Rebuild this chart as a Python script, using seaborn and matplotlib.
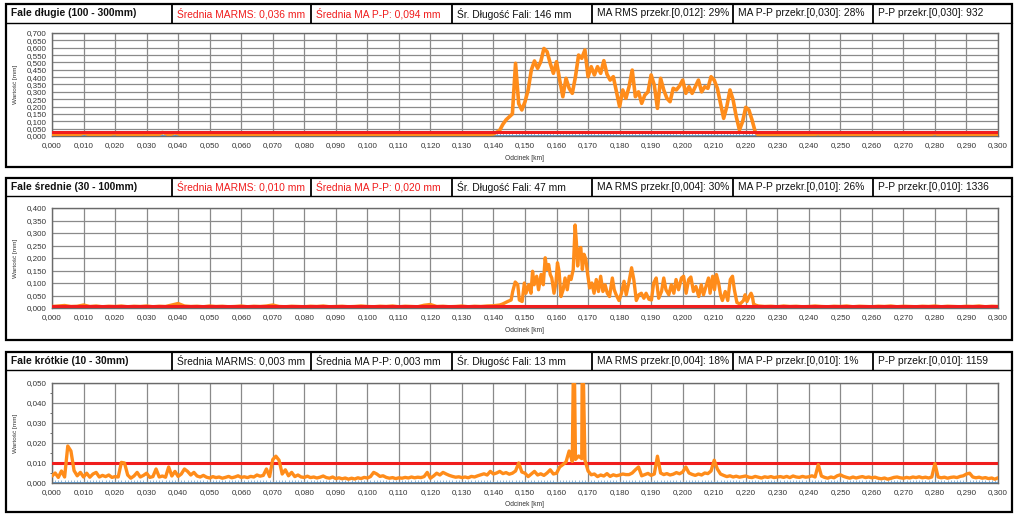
import numpy as np
import matplotlib
matplotlib.use("Agg")
import matplotlib.pyplot as plt
import seaborn as sns
from matplotlib.patches import Rectangle
from matplotlib.lines import Line2D
from matplotlib.ticker import MultipleLocator, FuncFormatter

sns.set_style("white")
plt.rcParams["font.family"] = ["Liberation Sans", "DejaVu Sans"]

# ========== Data ==========
# --- long waves: one value per metre, 0.000 .. 0.300 km ---
p1_y = [
    0.008, 0.006, 0.009, 0.007, 0.010, 0.006, 0.008, 0.011, 0.007, 0.012,   # 0.000
    0.020, 0.015, 0.008, 0.006, 0.009, 0.012, 0.007, 0.010, 0.008, 0.014,   # 0.010
    0.016, 0.009, 0.007, 0.006, 0.010, 0.013, 0.008, 0.011, 0.007, 0.015,   # 0.020
    0.009, 0.006, 0.008, 0.007, 0.012, 0.024, 0.018, 0.009, 0.014, 0.022,   # 0.030
    0.016, 0.008, 0.006, 0.009, 0.011, 0.007, 0.008, 0.006, 0.010, 0.007,   # 0.040
    0.009, 0.006, 0.008, 0.010, 0.007, 0.006, 0.009, 0.011, 0.008, 0.006,   # 0.050
    0.007, 0.009, 0.006, 0.008, 0.010, 0.007, 0.006, 0.009, 0.008, 0.011,   # 0.060
    0.008, 0.006, 0.007, 0.009, 0.006, 0.008, 0.010, 0.007, 0.006, 0.008,   # 0.070
    0.009, 0.007, 0.006, 0.008, 0.010, 0.007, 0.009, 0.006, 0.008, 0.007,   # 0.080
    0.006, 0.008, 0.009, 0.007, 0.006, 0.010, 0.008, 0.007, 0.009, 0.006,   # 0.090
    0.008, 0.007, 0.010, 0.006, 0.009, 0.008, 0.007, 0.011, 0.006, 0.008,   # 0.100
    0.007, 0.009, 0.006, 0.008, 0.010, 0.007, 0.009, 0.006, 0.011, 0.008,   # 0.110
    0.010, 0.007, 0.009, 0.006, 0.008, 0.010, 0.007, 0.006, 0.009, 0.008,   # 0.120
    0.007, 0.009, 0.006, 0.008, 0.010, 0.007, 0.009, 0.008, 0.010, 0.012,   # 0.130
    0.014, 0.025, 0.040, 0.080, 0.110, 0.130, 0.150, 0.494, 0.220, 0.177,   # 0.140
    0.233, 0.313, 0.448, 0.510, 0.460, 0.505, 0.595, 0.573, 0.494, 0.426,   # 0.150
    0.505, 0.380, 0.267, 0.392, 0.324, 0.290, 0.403, 0.550, 0.528, 0.585,   # 0.160
    0.403, 0.471, 0.415, 0.471, 0.426, 0.512, 0.420, 0.380, 0.403, 0.300,   # 0.170
    0.200, 0.313, 0.256, 0.335, 0.448, 0.267, 0.300, 0.222, 0.278, 0.300,   # 0.180
    0.415, 0.346, 0.188, 0.392, 0.313, 0.256, 0.233, 0.324, 0.313, 0.340,   # 0.190
    0.380, 0.290, 0.335, 0.290, 0.335, 0.380, 0.300, 0.335, 0.324, 0.403,   # 0.200
    0.380, 0.324, 0.222, 0.120, 0.200, 0.313, 0.245, 0.131, 0.041, 0.097,   # 0.210
    0.195, 0.177, 0.109, 0.029, 0.007, 0.006,                               # 0.220
    0.006, 0.008, 0.007, 0.009, 0.006, 0.008, 0.010, 0.007, 0.009, 0.006,   # 0.226
    0.008, 0.007, 0.010, 0.006, 0.009, 0.008, 0.011, 0.016, 0.009, 0.007,   # 0.236
    0.008, 0.006, 0.009, 0.007, 0.010, 0.008, 0.006, 0.009, 0.007, 0.008,   # 0.246
    0.010, 0.007, 0.006, 0.009, 0.008, 0.007, 0.010, 0.006, 0.009, 0.008,   # 0.256
    0.007, 0.009, 0.006, 0.008, 0.011, 0.007, 0.009, 0.006, 0.008, 0.010,   # 0.266
    0.007, 0.009, 0.008, 0.012, 0.017, 0.010, 0.008, 0.007, 0.009, 0.006,   # 0.276
    0.008, 0.010, 0.007, 0.009, 0.006, 0.008, 0.011, 0.007, 0.009, 0.008,   # 0.286
    0.010, 0.007, 0.009, 0.008, 0.011,                                      # 0.296
]
p1_x = np.linspace(0.0, 0.3, len(p1_y))

# --- medium waves: quiet stretches every 2 m, traced points in between ---
p2_left_y = [
    0.006, 0.008, 0.010, 0.006, 0.007, 0.012, 0.006, 0.008, 0.005, 0.007,
    0.006, 0.008, 0.005, 0.007, 0.006, 0.008, 0.005, 0.007, 0.006, 0.012,
    0.018, 0.008, 0.006, 0.007, 0.005, 0.008, 0.006, 0.007, 0.005, 0.006,
    0.008, 0.005, 0.007, 0.006, 0.008, 0.012, 0.006, 0.005, 0.007, 0.006,
    0.005, 0.007, 0.006, 0.008, 0.005, 0.006, 0.007, 0.005, 0.006, 0.008,
    0.006, 0.005, 0.007, 0.006, 0.008, 0.005, 0.007, 0.006, 0.005, 0.011,
    0.014, 0.006, 0.007, 0.005, 0.006, 0.008, 0.005, 0.007, 0.006, 0.008,
    0.009, 0.012,
]
p2_left_x = np.linspace(0.0, 0.142, len(p2_left_y))
p2_mid_x = [
    0.1429, 0.1445, 0.1456, 0.1461, 0.1469, 0.1477, 0.1482, 0.1491, 0.1498, 0.1503,
    0.1512, 0.1519, 0.1524, 0.1529, 0.1537, 0.1543, 0.1551, 0.1558, 0.1564, 0.1569,
    0.1575, 0.1580, 0.1585, 0.1592, 0.1598, 0.1603, 0.1608, 0.1614, 0.1621, 0.1627,
    0.1634, 0.1640, 0.1646, 0.1653, 0.1659, 0.1663, 0.1667, 0.1672, 0.1677, 0.1682,
    0.1687, 0.1693, 0.1698, 0.1705, 0.1712, 0.1719, 0.1726, 0.1733, 0.1740, 0.1747,
    0.1754, 0.1761, 0.1768, 0.1777, 0.1783, 0.1789, 0.1798, 0.1806, 0.1814, 0.1821,
    0.1829, 0.1838, 0.1845, 0.1853, 0.1861, 0.1869, 0.1877, 0.1884, 0.1893, 0.1901,
    0.1908, 0.1916, 0.1924, 0.1933, 0.1940, 0.1947, 0.1956, 0.1964, 0.1972, 0.1979,
    0.1987, 0.1996, 0.2003, 0.2011, 0.2019, 0.2026, 0.2034, 0.2042, 0.2051, 0.2059,
    0.2066, 0.2074, 0.2082, 0.2087, 0.2095, 0.2101, 0.2107, 0.2114, 0.2120, 0.2126,
    0.2135, 0.2143, 0.2151, 0.2158, 0.2164, 0.2172, 0.2182, 0.2193, 0.2198, 0.2204,
    0.2211, 0.2217, 0.2221, 0.2225, 0.2232,
]
p2_mid_y = [
    0.016, 0.026, 0.032, 0.066, 0.104, 0.093, 0.032, 0.026, 0.100, 0.059,
    0.093, 0.059, 0.147, 0.093, 0.127, 0.073, 0.134, 0.093, 0.201, 0.154,
    0.174, 0.134, 0.120, 0.059, 0.100, 0.181, 0.147, 0.046, 0.073, 0.120,
    0.073, 0.127, 0.114, 0.154, 0.332, 0.262, 0.168, 0.235, 0.242, 0.154,
    0.215, 0.195, 0.141, 0.080, 0.100, 0.059, 0.114, 0.066, 0.127, 0.066,
    0.093, 0.059, 0.046, 0.120, 0.073, 0.053, 0.030, 0.059, 0.107, 0.053,
    0.100, 0.161, 0.114, 0.030, 0.053, 0.059, 0.039, 0.059, 0.035, 0.032,
    0.100, 0.120, 0.039, 0.066, 0.120, 0.073, 0.053, 0.093, 0.059, 0.114,
    0.073, 0.120, 0.127, 0.059, 0.114, 0.124, 0.066, 0.086, 0.046, 0.093,
    0.053, 0.086, 0.120, 0.059, 0.127, 0.073, 0.134, 0.100, 0.053, 0.030,
    0.066, 0.030, 0.114, 0.127, 0.073, 0.022, 0.016, 0.030, 0.053, 0.026,
    0.046, 0.059, 0.046, 0.016, 0.011,
]
p2_right_y = [
    0.008, 0.006, 0.007, 0.005, 0.008, 0.006, 0.007, 0.005, 0.006, 0.008,
    0.006, 0.005, 0.007, 0.006, 0.008, 0.005, 0.007, 0.006, 0.005, 0.007,
    0.006, 0.008, 0.005, 0.007, 0.006, 0.005, 0.007, 0.006, 0.008, 0.005,
    0.007, 0.006, 0.005, 0.007, 0.006, 0.008, 0.005, 0.007, 0.006,
]
p2_right_x = np.linspace(0.224, 0.300, len(p2_right_y))

# --- short waves: one value per metre, plus two narrow spikes off the scale ---
p3_y = [
    0.0035, 0.0050, 0.0028, 0.0060, 0.0030, 0.0185, 0.0160, 0.0062, 0.0036, 0.0053,  # 0.000
    0.0030, 0.0049, 0.0029, 0.0045, 0.0053, 0.0030, 0.0038, 0.0032, 0.0040, 0.0028,  # 0.010
    0.0032, 0.0030, 0.0103, 0.0100, 0.0040, 0.0024, 0.0035, 0.0053, 0.0030, 0.0038,  # 0.020
    0.0049, 0.0028, 0.0032, 0.0070, 0.0030, 0.0035, 0.0029, 0.0080, 0.0035, 0.0058,  # 0.030
    0.0033, 0.0045, 0.0070, 0.0058, 0.0040, 0.0053, 0.0035, 0.0030, 0.0038, 0.0029,  # 0.040
    0.0025, 0.0032, 0.0027, 0.0030, 0.0024, 0.0028, 0.0033, 0.0026, 0.0030, 0.0036,  # 0.050
    0.0028, 0.0031, 0.0027, 0.0033, 0.0030, 0.0040, 0.0034, 0.0038, 0.0070, 0.0032,  # 0.060
    0.0117, 0.0134, 0.0114, 0.0045, 0.0066, 0.0036, 0.0053, 0.0032, 0.0040, 0.0030,  # 0.070
    0.0028, 0.0034, 0.0027, 0.0030, 0.0025, 0.0029, 0.0035, 0.0027, 0.0024, 0.0030,  # 0.080
    0.0022, 0.0026, 0.0021, 0.0025, 0.0019, 0.0024, 0.0020, 0.0026, 0.0022, 0.0028,  # 0.090
    0.0025, 0.0032, 0.0053, 0.0045, 0.0033, 0.0036, 0.0028, 0.0024, 0.0027, 0.0022,  # 0.100
    0.0026, 0.0024, 0.0028, 0.0025, 0.0030, 0.0026, 0.0029, 0.0027, 0.0032, 0.0053,  # 0.110
    0.0024, 0.0035, 0.0049, 0.0040, 0.0053, 0.0045, 0.0038, 0.0033, 0.0029, 0.0031,  # 0.120
    0.0027, 0.0030, 0.0026, 0.0033, 0.0030, 0.0036, 0.0041, 0.0046, 0.0040, 0.0058,  # 0.130
    0.0045, 0.0050, 0.0058, 0.0047, 0.0052, 0.0044, 0.0049, 0.0060, 0.0100, 0.0055,  # 0.140
    0.0049, 0.0032, 0.0045, 0.0058, 0.0040, 0.0046, 0.0038, 0.0050, 0.0066, 0.0045,  # 0.150
    0.0049, 0.0080, 0.0092, 0.0105, 0.0160, 0.0108, 0.0118, 0.0135, 0.0122, 0.0115,  # 0.160
    0.0060, 0.0041, 0.0045, 0.0032, 0.0040, 0.0035, 0.0047, 0.0033, 0.0041, 0.0036,  # 0.170
    0.0040, 0.0045, 0.0042, 0.0042, 0.0050, 0.0066, 0.0080, 0.0036, 0.0042, 0.0048,  # 0.180
    0.0038, 0.0045, 0.0134, 0.0050, 0.0042, 0.0047, 0.0040, 0.0044, 0.0052, 0.0046,  # 0.190
    0.0055, 0.0080, 0.0050, 0.0043, 0.0038, 0.0045, 0.0040, 0.0050, 0.0047, 0.0060,  # 0.200
    0.0114, 0.0070, 0.0045, 0.0038, 0.0032, 0.0036, 0.0030, 0.0034, 0.0029, 0.0032,  # 0.210
    0.0035, 0.0029, 0.0027, 0.0033, 0.0029, 0.0025, 0.0031, 0.0028, 0.0032, 0.0027,  # 0.220
    0.0030, 0.0032, 0.0028, 0.0033, 0.0027, 0.0035, 0.0030, 0.0028, 0.0033, 0.0029,  # 0.230
    0.0031, 0.0036, 0.0030, 0.0092, 0.0035, 0.0028, 0.0024, 0.0030, 0.0026, 0.0036,  # 0.240
    0.0041, 0.0033, 0.0028, 0.0024, 0.0030, 0.0025, 0.0029, 0.0032, 0.0027, 0.0030,  # 0.250
    0.0026, 0.0029, 0.0024, 0.0021, 0.0025, 0.0019, 0.0023, 0.0028, 0.0030, 0.0026,  # 0.260
    0.0024, 0.0028, 0.0025, 0.0030, 0.0027, 0.0031, 0.0026, 0.0029, 0.0025, 0.0030,  # 0.270
    0.0097, 0.0030, 0.0026, 0.0029, 0.0024, 0.0028, 0.0030, 0.0027, 0.0033, 0.0036,  # 0.280
    0.0045, 0.0049, 0.0030, 0.0026, 0.0029, 0.0024, 0.0027, 0.0022, 0.0025, 0.0019,  # 0.290
    0.0026,
]
p3_grid_x = np.linspace(0.0, 0.3, len(p3_y))
p3_spike_x = [0.1655, 0.1682]
p3_spike_y = [0.0800, 0.0800]

# threshold levels (red) and axis ranges
thresholds = [0.030, 0.010, 0.010]
y_max = [0.700, 0.400, 0.050]
y_major = [0.050, 0.050, 0.010]
y_minor = [None, None, 0.005]
line_w = [2.6, 2.4, 2.4]
red_on_top = [True, True, False]

headers = [
    ["Fale długie (100 - 300mm)", "Średnia MARMS: 0,036 mm", "Średnia MA P-P: 0,094 mm",
     "Śr. Długość Fali: 146 mm", "MA RMS przekr.[0,012]: 29%", "MA P-P przekr.[0,030]: 28%",
     "P-P przekr.[0,030]: 932"],
    ["Fale średnie (30 - 100mm)", "Średnia MARMS: 0,010 mm", "Średnia MA P-P: 0,020 mm",
     "Śr. Długość Fali: 47 mm", "MA RMS przekr.[0,004]: 30%", "MA P-P przekr.[0,010]: 26%",
     "P-P przekr.[0,010]: 1336"],
    ["Fale krótkie (10 - 30mm)", "Średnia MARMS: 0,003 mm", "Średnia MA P-P: 0,003 mm",
     "Śr. Długość Fali: 13 mm", "MA RMS przekr.[0,004]: 18%", "MA P-P przekr.[0,010]: 1%",
     "P-P przekr.[0,010]: 1159"],
]
red_cells = [{1, 2}, {1, 2}, set()]

# ========== Layout (pixels) ==========
W, H = 1021, 518
FRAME_L, FRAME_R = 6, 1012
CELL_EDGES = [6, 172, 311, 452, 592, 733, 873, 1012]
AX_L, AX_R = 52, 998
# frame top, frame bottom, header bottom, axes top, axes bottom
layout = [
    (4, 167, 23, 33, 136),
    (178, 340, 196, 208, 308),
    (352, 512, 370, 383, 483),
]

ORANGE = "#ff8c1a"
RED = "#f01d1d"
BLUE = "#5b9bd5"
GRID = "#8a8a8a"


def fx(x):
    return x / W


def fy(y):
    return 1 - y / H


def comma_fmt(v, pos):
    return f"{v:.3f}".replace(".", ",")


fig = plt.figure(figsize=(W / 100, H / 100), dpi=100)

p3_x = np.concatenate([p3_grid_x, p3_spike_x])
p3_v = np.concatenate([p3_y, p3_spike_y])
order = np.argsort(p3_x)

series = [
    (p1_x, np.array(p1_y)),
    (np.concatenate([p2_left_x, p2_mid_x, p2_right_x]),
     np.array(p2_left_y + p2_mid_y + p2_right_y)),
    (p3_x[order], p3_v[order]),
]

for i, (ftop, fbot, hbot, atop, abot) in enumerate(layout):
    # ----- outer frame and header cells -----
    fig.add_artist(Rectangle((fx(FRAME_L), fy(fbot)), fx(FRAME_R - FRAME_L), (fbot - ftop) / H,
                             transform=fig.transFigure, fill=False, ec="black", lw=1.6, zorder=10))
    fig.add_artist(Line2D([fx(FRAME_L), fx(FRAME_R)], [fy(hbot)] * 2,
                          transform=fig.transFigure, color="black", lw=1.0))
    for e in CELL_EDGES[1:-1]:
        fig.add_artist(Line2D([fx(e)] * 2, [fy(ftop), fy(hbot)],
                              transform=fig.transFigure, color="black", lw=1.3))
    for j, txt in enumerate(headers[i]):
        fig.text(fx(CELL_EDGES[j] + 5), fy((ftop + hbot) / 2), txt,
                 ha="left", va="center", fontsize=7.4,
                 fontweight="bold" if j == 0 else "normal",
                 color=RED if j in red_cells[i] else "#111111")

    # ----- plot area -----
    ax = fig.add_axes([fx(AX_L), fy(abot), fx(AX_R - AX_L), (abot - atop) / H])
    x, y = series[i]
    ax.axhline(0.0, color=BLUE, lw=1.3, zorder=2)
    ax.axhline(thresholds[i], color=RED, lw=2.2, zorder=5 if red_on_top[i] else 3)
    sns.lineplot(x=x, y=y, ax=ax, color=ORANGE, lw=line_w[i], errorbar=None,
                 sort=False, zorder=4)

    ax.set_xlim(0, 0.3)
    ax.set_ylim(0, y_max[i])
    ax.xaxis.set_major_locator(MultipleLocator(0.01))
    ax.xaxis.set_minor_locator(MultipleLocator(0.001))
    ax.yaxis.set_major_locator(MultipleLocator(y_major[i]))
    if y_minor[i]:
        ax.yaxis.set_minor_locator(MultipleLocator(y_minor[i]))
    ax.xaxis.set_major_formatter(FuncFormatter(comma_fmt))
    ax.yaxis.set_major_formatter(FuncFormatter(comma_fmt))
    ax.grid(True, which="major", color=GRID, lw=0.9)
    ax.set_axisbelow(True)

    ax.tick_params(axis="both", which="major", labelsize=5.8, labelcolor="#333333",
                   length=2.5, width=0.7, color="#555555", pad=1.5)
    ax.tick_params(axis="x", which="minor", direction="in", length=2.5, width=0.6,
                   color="#7fa7c9", bottom=True)
    ax.tick_params(axis="y", which="minor", length=1.8, width=0.6, color="#555555", left=True)
    ax.set_xlabel("")
    ax.set_ylabel("")
    for s in ax.spines.values():
        s.set_color("#6a6a6a")
        s.set_linewidth(1.0)

    fig.text(fx(15), fy((atop + abot) / 2), "Wartość [mm]", rotation=90,
             ha="center", va="center", fontsize=4.6, color="#333333")
    fig.text(fx(524), fy(abot + 22), "Odcinek [km]", ha="center", va="center",
             fontsize=4.8, color="#333333")

fig.savefig("out.png", dpi=100, facecolor="white")
